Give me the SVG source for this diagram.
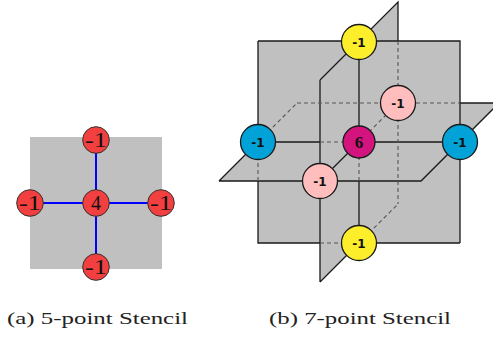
<svg xmlns="http://www.w3.org/2000/svg" width="493" height="337" viewBox="0 0 493 337">
<style>
.plane{fill:#c0c0c0;stroke:none}
.s{stroke:#1a1a1a;stroke-width:1.3;fill:none}
.d{stroke:#555;stroke-width:1.1;fill:none;stroke-dasharray:4 3}
.blue{stroke:#0000ff;stroke-width:2;fill:none}
.rn{fill:#f23f3f;stroke:#333;stroke-width:1}
.n{stroke:#1a1a1a;stroke-width:1.3}
.lbl{font-family:"DejaVu Sans",sans-serif;font-weight:bold;font-size:12px;fill:#111;text-anchor:middle}
.rl{font-family:"Liberation Serif",serif;font-size:20px;fill:#111;text-anchor:middle}
.cap{font-family:"Liberation Serif",serif;font-size:17px;fill:#222}
</style>
<rect width="493" height="337" fill="#fff"/>
<g id="stencil5">
<rect class="plane" x="30" y="137" width="132" height="132"/>
<g id="edges5">
<line class="blue" x1="96" y1="140" x2="96" y2="267"/>
<line class="blue" x1="30" y1="203" x2="161" y2="203"/>
</g>
<g id="a-center"><circle class="rn" cx="96" cy="203" r="13.3"/><text class="rl" x="96" y="210">4</text></g>
<g id="a-top"><circle class="rn" cx="96" cy="140" r="13.3"/><text class="rl" x="96" y="147" textLength="22" lengthAdjust="spacingAndGlyphs">-1</text></g>
<g id="a-bottom"><circle class="rn" cx="96" cy="267" r="13.3"/><text class="rl" x="96" y="274" textLength="22" lengthAdjust="spacingAndGlyphs">-1</text></g>
<g id="a-left"><circle class="rn" cx="30" cy="203" r="13.3"/><text class="rl" x="30" y="210" textLength="22" lengthAdjust="spacingAndGlyphs">-1</text></g>
<g id="a-right"><circle class="rn" cx="161" cy="203" r="13.3"/><text class="rl" x="161" y="210" textLength="22" lengthAdjust="spacingAndGlyphs">-1</text></g>
</g>
<g id="stencil7">
<g id="planes">
<rect class="plane" x="258" y="41" width="202" height="202"/>
<polygon class="plane" points="219,181 421,181 499,103 297,103"/>
<polygon class="plane" points="320,80 398,2 398,204 320,282"/>
</g>
<g id="connectors">
<path class="s" d="M258,41H460V243M258,41V142M258,181V243H320M359,243H460M359,41V142M359,181V243M258,142H320M359,142H460M219,181H421L499,103H460M219,181L258,142M320,181L359,142M320,80V282M320,80L398,2V41M320,282L359,243"/>
<path class="d" d="M258,142V181M320,243H358M359,142V181M320,142H359M297,103H460M258,142L297,103M359,142L398,103M398,41V204M359,243L398,204"/>
</g>
<g id="b-back"><circle class="n" cx="398" cy="103" r="17.5" fill="#ffbdbd"/><text class="lbl" x="398" y="107.5">-1</text></g>
<g id="b-top"><circle class="n" cx="359" cy="42" r="17.5" fill="#fdee2c"/><text class="lbl" x="359" y="46.5">-1</text></g>
<g id="b-center"><circle class="n" cx="359" cy="142" r="16" fill="#d4147e"/><text x="359" y="148" font-family="Liberation Serif, serif" font-weight="bold" font-size="17" fill="#111" text-anchor="middle">6</text></g>
<g id="b-left"><circle class="n" cx="258" cy="142" r="17.5" fill="#00a2d7"/><text class="lbl" x="258" y="146.5">-1</text></g>
<g id="b-right"><circle class="n" cx="460" cy="142" r="17.5" fill="#00a2d7"/><text class="lbl" x="460" y="146.5">-1</text></g>
<g id="b-front"><circle class="n" cx="320" cy="181" r="17.5" fill="#ffbdbd"/><text class="lbl" x="320" y="185.5">-1</text></g>
<g id="b-bottom"><circle class="n" cx="359" cy="243" r="17.5" fill="#fdee2c"/><text class="lbl" x="359" y="247.5">-1</text></g>
</g>
<text class="cap" x="7" y="324" textLength="181" lengthAdjust="spacingAndGlyphs">(a) 5-point Stencil</text>
<text class="cap" x="269" y="324" textLength="182" lengthAdjust="spacingAndGlyphs">(b) 7-point Stencil</text>
</svg>
